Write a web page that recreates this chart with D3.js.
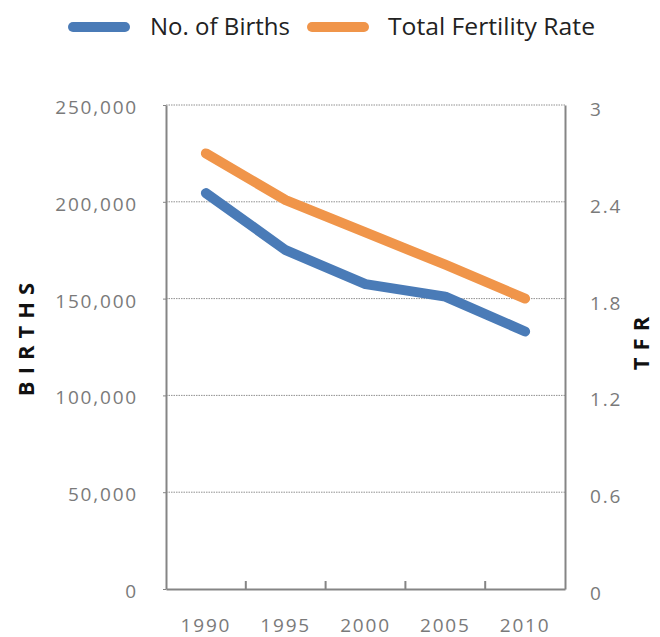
<!DOCTYPE html>
<html>
<head>
<meta charset="utf-8">
<script src="https://cdn.jsdelivr.net/npm/d3@7"></script>
<style>
  body { margin: 0; background: white; }
  svg { display: block; }
</style>
</head>
<body>
<div id="chart"></div>
<script>
// chart data
const years = ["1990", "1995", "2000", "2005", "2010"];
const births = [204500, 175000, 157500, 151000, 133000];
const tfr = [2.70, 2.41, 2.21, 2.01, 1.80];
const birthTicks = [0, 50000, 100000, 150000, 200000, 250000];
const tfrTicks = [0, 0.6, 1.2, 1.8, 2.4, 3];
const tfrTickLabels = ["0", "0.6", "1.2", "1.8", "2.4", "3"];
const seriesNames = ["No. of Births", "Total Fertility Rate"];

const width = 660, height = 637;
const plotLeft = 166, plotRight = 565, plotTop = 105, plotBottom = 589;
const blue = "#4a7bb7", orange = "#f0954a";
const axisGrey = "#858585", labelGrey = "#7a7a7a";

const svg = d3.select("#chart")
  .append("svg")
    .attr("width", width)
    .attr("height", height)
    .style("background", "white")

const x = d3.scaleBand().domain(years).range([plotLeft, plotRight]).padding(0);
const yL = d3.scaleLinear().domain([0, 250000]).range([plotBottom, plotTop]);
const yR = d3.scaleLinear().domain([0, 3]).range([plotBottom, plotTop]);

// dotted gridlines
svg.append("g")
  .selectAll("line")
  .data(birthTicks.filter(d => d > 0))
  .join("line")
    .attr("x1", plotLeft)
    .attr("x2", plotRight)
    .attr("y1", d => yL(d))
    .attr("y2", d => yL(d))
    .attr("stroke", "#909090")
    .attr("stroke-width", 1)
    .attr("stroke-dasharray", "1.5,1")

// left axis
const leftAxis = svg.append("g")
  .attr("transform", `translate(${plotLeft},0)`)
  .call(d3.axisLeft(yL).tickValues(birthTicks).tickFormat(d3.format(",")).tickSize(3).tickPadding(25).tickSizeOuter(0))
leftAxis.select(".domain").attr("stroke", axisGrey).attr("stroke-width", 2)
leftAxis.selectAll(".tick line").attr("stroke", axisGrey).attr("stroke-width", 1)
leftAxis.selectAll(".tick text")
  .attr("fill", labelGrey)
  .attr("dy", "0.45em")
  .style("font-family", "'Open Sans', sans-serif")
  .style("font-size", "19px")
  .style("letter-spacing", "1.8px")

// right axis
const rightAxis = svg.append("g")
  .attr("transform", `translate(${plotRight},0)`)
  .call(d3.axisRight(yR).tickValues(tfrTicks).tickFormat((d, i) => tfrTickLabels[i]).tickSize(0).tickPadding(25).tickSizeOuter(0))
rightAxis.select(".domain").attr("stroke", axisGrey).attr("stroke-width", 2)
rightAxis.selectAll(".tick text")
  .attr("fill", labelGrey)
  .attr("dy", "0.55em")
  .style("font-family", "'Open Sans', sans-serif")
  .style("font-size", "19px")
  .style("letter-spacing", "1.8px")

// bottom axis
const bottomAxis = svg.append("g")
  .attr("transform", `translate(0,${plotBottom})`)
  .call(d3.axisBottom(x).tickSize(0).tickPadding(30).tickSizeOuter(0))
bottomAxis.select(".domain").attr("stroke", axisGrey).attr("stroke-width", 2)
bottomAxis.selectAll(".tick text")
  .attr("fill", labelGrey)
  .style("font-family", "'Open Sans', sans-serif")
  .style("font-size", "19px")
  .style("letter-spacing", "1.8px")

// inner category ticks
svg.append("g")
  .selectAll("line")
  .data(years.slice(1))
  .join("line")
    .attr("x1", d => x(d))
    .attr("x2", d => x(d))
    .attr("y1", plotBottom)
    .attr("y2", plotBottom - 8)
    .attr("stroke", axisGrey)
    .attr("stroke-width", 2)

// lines
const lineL = d3.line().x((d, i) => x(years[i]) + x.bandwidth() / 2).y(d => yL(d));
const lineR = d3.line().x((d, i) => x(years[i]) + x.bandwidth() / 2).y(d => yR(d));

svg.append("path")
  .datum(births)
  .attr("d", lineL)
  .attr("fill", "none")
  .attr("stroke", blue)
  .attr("stroke-width", 10)
  .attr("stroke-linecap", "round")
  .attr("stroke-linejoin", "round")

svg.append("path")
  .datum(tfr)
  .attr("d", lineR)
  .attr("fill", "none")
  .attr("stroke", orange)
  .attr("stroke-width", 10)
  .attr("stroke-linecap", "round")
  .attr("stroke-linejoin", "round")

// axis titles
svg.append("text")
  .attr("transform", "translate(34,336) rotate(-90)")
  .attr("text-anchor", "middle")
  .attr("fill", "#111")
  .style("font-family", "'Open Sans', sans-serif")
  .style("font-weight", "bold")
  .style("font-size", "22px")
  .style("letter-spacing", "7px")
  .text("BIRTHS")

svg.append("text")
  .attr("transform", "translate(649,340) rotate(-90)")
  .attr("text-anchor", "middle")
  .attr("fill", "#111")
  .style("font-family", "'Open Sans', sans-serif")
  .style("font-weight", "bold")
  .style("font-size", "22px")
  .style("letter-spacing", "7px")
  .text("TFR")

// legend
const legendItems = [
  {name: seriesNames[0], color: blue, x1: 73, x2: 125, tx: 150, tw: 140},
  {name: seriesNames[1], color: orange, x1: 312, x2: 364, tx: 388, tw: 207}
];
const legend = svg.append("g")
for (const item of legendItems) {
  legend.append("line")
    .attr("x1", item.x1)
    .attr("x2", item.x2)
    .attr("y1", 27)
    .attr("y2", 27)
    .attr("stroke", item.color)
    .attr("stroke-width", 10)
    .attr("stroke-linecap", "round")
  legend.append("text")
    .attr("x", item.tx)
    .attr("y", 34.5)
    .attr("fill", "#222")
    .attr("textLength", item.tw)
    .attr("lengthAdjust", "spacingAndGlyphs")
    .style("font-family", "'Open Sans', sans-serif")
    .style("font-size", "23px")
    .text(item.name)
}
</script>
</body>
</html>
